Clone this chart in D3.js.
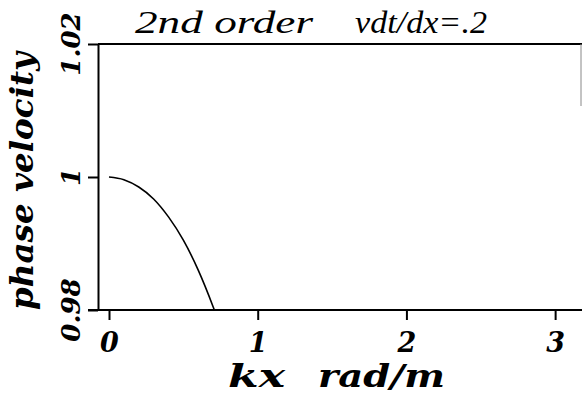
<!DOCTYPE html>
<html>
<head>
<meta charset="utf-8">
<script src="https://cdn.jsdelivr.net/npm/d3@7"></script>
<style>
  html, body { margin: 0; padding: 0; background: #fff; }
  svg { display: block; }
  text { fill: #000; font-family: "DejaVu Serif", "Liberation Serif", serif; }
</style>
</head>
<body>
<svg id="chart" width="582" height="404"></svg>
<script>
// Phase velocity of a 2nd order scheme, courant number vdt/dx = .2
const kx       = [0, 0.1, 0.2, 0.3, 0.4, 0.5, 0.6, 0.7, 0.72];
const velocity = [1.0, 0.9996, 0.9985, 0.9967, 0.9940, 0.9905, 0.9860, 0.9805, 0.9793];

const xTicks = [0, 1, 2, 3];
const xTickLabels = ["0", "1", "2", "3"];
const yTicks = [0.98, 1.0, 1.02];
const yTickLabels = ["0.98", "1", "1.02"];

const titleParts = ["2nd order", "vdt/dx=.2"];
const xLabelParts = ["kx", "rad/m"];
const yLabel = "phase velocity";

const svg = d3.select("#chart");
const plotLeft = 98, plotRight = 581, plotTop = 44, plotBottom = 310;

const x = d3.scaleLinear().domain([-0.074, 3.174]).range([plotLeft, plotRight]);
const y = d3.scaleLinear().domain([0.98, 1.02]).range([plotBottom, plotTop]);

// frame: top line, partial right edge
svg.append("line").attr("x1", plotLeft).attr("x2", plotRight + 1).attr("y1", plotTop).attr("y2", plotTop)
  .attr("stroke", "#000").attr("stroke-width", 2);
svg.append("line").attr("x1", plotRight).attr("x2", plotRight).attr("y1", plotTop).attr("y2", 106)
  .attr("stroke", "#888").attr("stroke-width", 1);

// x axis
const xAxis = d3.axisBottom(x).tickValues(xTicks)
  .tickFormat((d, i) => xTickLabels[i]).tickSize(10).tickSizeOuter(0).tickPadding(6);
const gx = svg.append("g").attr("transform", `translate(0,${plotBottom})`).call(xAxis);
gx.select(".domain").attr("d", `M${plotLeft - 10},0H582`).attr("stroke-width", 2);
gx.selectAll(".tick line").attr("stroke-width", 2);
gx.selectAll(".tick text")
  .style("font-family", "DejaVu Serif").style("font-style", "italic").style("font-weight", "bold")
  .style("font-size", "27px").attr("fill", "#000").attr("dy", "0.95em");

// y axis; its labels are drawn rotated below
const yAxis = d3.axisLeft(y).tickValues(yTicks).tickFormat("").tickSize(10).tickSizeOuter(0);
const gy = svg.append("g").attr("transform", `translate(${plotLeft},0)`).call(yAxis);
gy.select(".domain").attr("stroke-width", 2);
gy.selectAll(".tick line").attr("stroke-width", 2);

const yLabels = svg.append("g").attr("transform", "rotate(-90)");
yLabels.selectAll("text").data(yTicks).join("text")
  .attr("x", d => -y(d)).attr("y", 80)
  .attr("text-anchor", "middle")
  .style("font-style", "italic").style("font-weight", "bold").style("font-size", "26px")
  .text((d, i) => yTickLabels[i]);

// curve, clipped to the plot area
svg.append("clipPath").attr("id", "plot-clip")
  .append("rect").attr("x", plotLeft).attr("y", plotTop)
  .attr("width", plotRight - plotLeft).attr("height", plotBottom - plotTop);
const line = d3.line().x((d, i) => x(kx[i])).y(d => y(d)).curve(d3.curveMonotoneX);
svg.append("path").datum(velocity)
  .attr("clip-path", "url(#plot-clip)")
  .attr("d", line).attr("fill", "none").attr("stroke", "#000").attr("stroke-width", 1.6);

// title
svg.append("text").attr("x", 135).attr("y", 33)
  .attr("textLength", 178).attr("lengthAdjust", "spacingAndGlyphs")
  .style("font-family", "'Liberation Serif', serif")
  .style("font-style", "italic").style("font-size", "31px").text(titleParts[0]);
svg.append("text").attr("x", 355).attr("y", 33)
  .attr("textLength", 132).attr("lengthAdjust", "spacingAndGlyphs")
  .style("font-family", "'Liberation Serif', serif")
  .style("font-style", "italic").style("font-size", "31px").text(titleParts[1]);

// x axis label
svg.append("text").attr("x", 228).attr("y", 387)
  .attr("textLength", 57).attr("lengthAdjust", "spacingAndGlyphs")
  .style("font-style", "italic").style("font-weight", "bold").style("font-size", "32px")
  .text(xLabelParts[0]);
svg.append("text").attr("x", 318).attr("y", 387)
  .attr("textLength", 127).attr("lengthAdjust", "spacingAndGlyphs")
  .style("font-style", "italic").style("font-weight", "bold").style("font-size", "32px")
  .text(xLabelParts[1]);

// y axis label
svg.append("text").attr("transform", "rotate(-90)").attr("x", -310).attr("y", 33)
  .attr("textLength", 258).attr("lengthAdjust", "spacingAndGlyphs")
  .style("font-style", "italic").style("font-weight", "bold").style("font-size", "31px")
  .text(yLabel);
</script>
</body>
</html>
